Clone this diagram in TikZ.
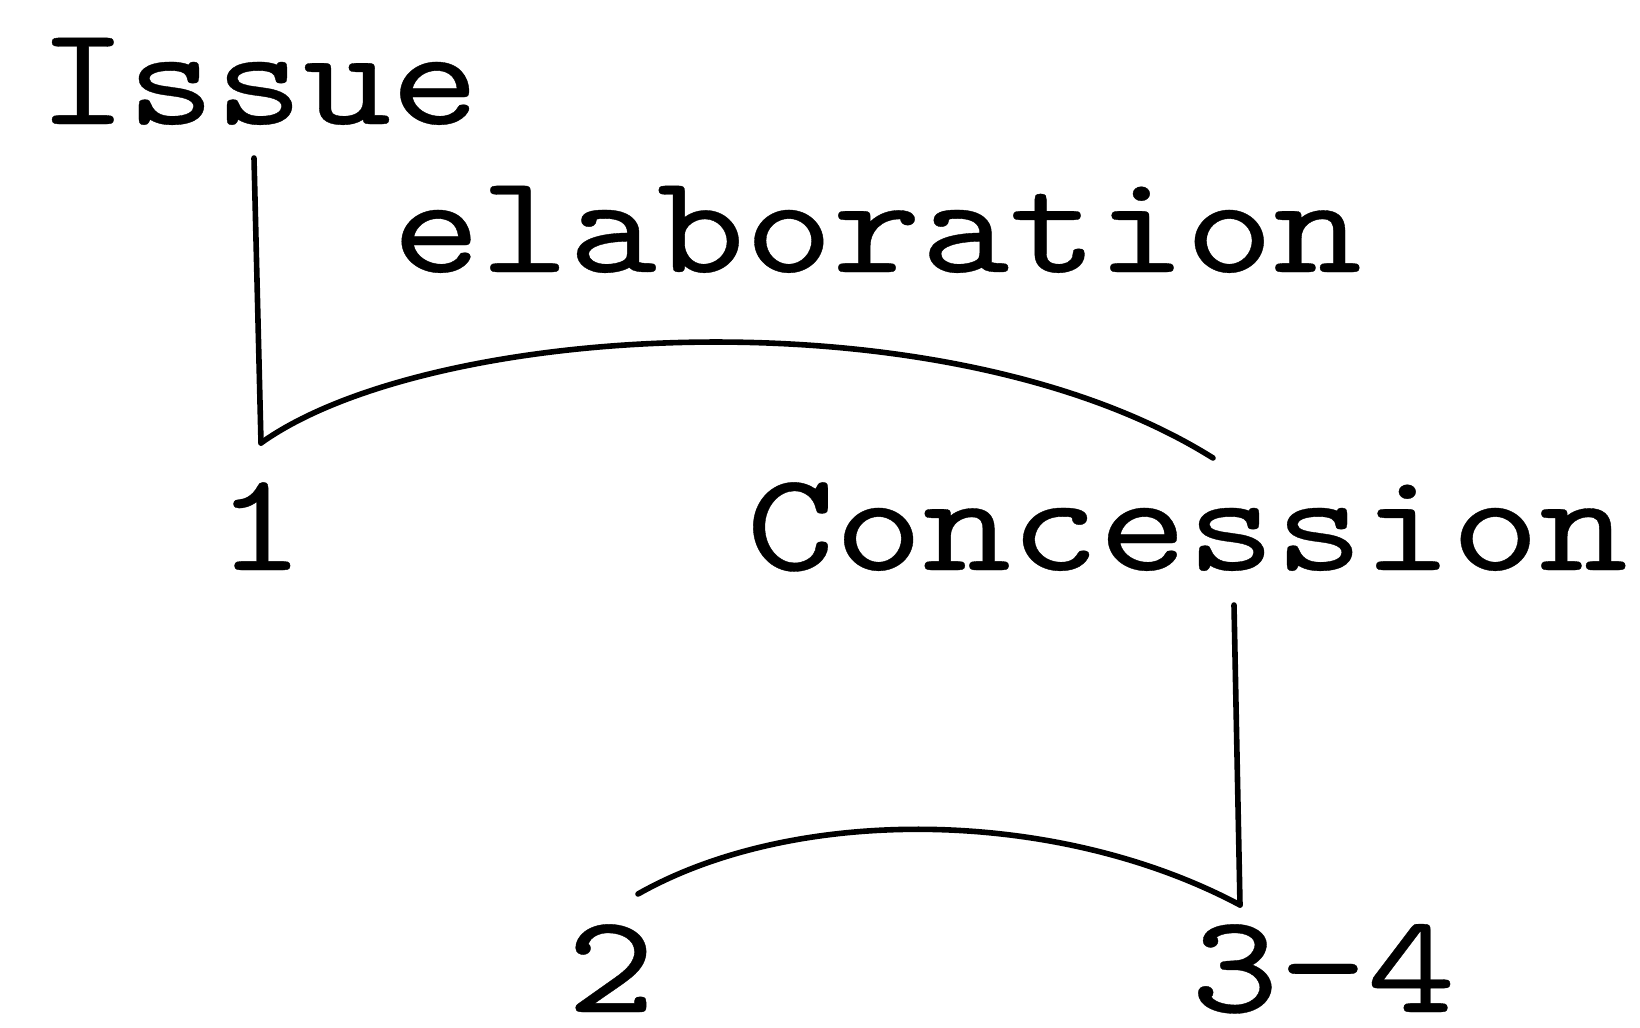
\documentclass[tikz,border=0pt]{standalone}
\usepackage{fontspec}
\newfontfamily\lblfont[Extension=.otf,FakeStretch=1.19,FakeBold=0.25]{lmmono10-regular}
\begin{document}
\begin{tikzpicture}[x=0.5pt,y=-0.5pt,
  lbl/.style={inner sep=0pt,anchor=base,text depth=0pt,font=\lblfont\fontsize{70.5}{76}\selectfont},
  link/.style={line width=2.8pt,line cap=round,line join=round}]
\useasboundingbox[fill=white] (0,0) rectangle (1640,1028);
\node[lbl] (issue) at (259,124) {Issue};
\node[lbl] (elab) at (877,272) {elaboration};
\node[lbl] (one) at (260,570) {1};
\node[lbl] (conc) at (1187,570) {Concession};
\node[lbl] (two) at (611,1012) {2};
\node[lbl] (tf) at (1323,1012) {3-4};
\coordinate (l1t) at (254,158);
\coordinate (l1b) at (261,443);
\coordinate (a1e) at (1213,458);
\coordinate (l2t) at (1234,605);
\coordinate (l2b) at (1240,905);
\coordinate (a2s) at (638,894);
\draw[link] (l1t) -- (l1b);
\draw[link] (l1b) .. controls (430,322) and (945,290) .. (a1e);
\draw[link] (l2t) -- (l2b);
\draw[link] (a2s) .. controls (795,805) and (1056,807) .. (l2b);
\end{tikzpicture}
\end{document}
